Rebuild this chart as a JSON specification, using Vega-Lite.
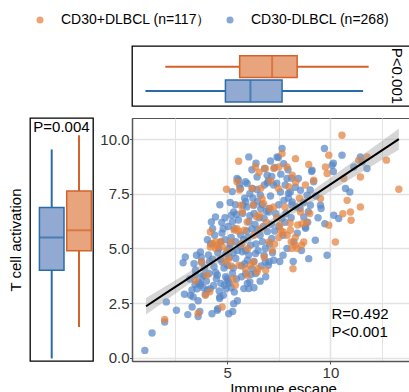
{
"$schema": "https://vega.github.io/schema/vega-lite/v6.json",
"autosize": {"type": "none"},
"padding": {"left": 30, "top": 46, "right": 379, "bottom": 346},
"background": "white",
"config": {"font": "Liberation Sans", "view": {"stroke": null}},
"columns": 2,
"spacing": {"row": 12, "column": 39},
"bounds": "flush",
"align": "each",
"resolve": {"scale": {"color": "independent", "fill": "independent", "stroke": "independent"}, "legend": {"color": "independent", "fill": "independent", "stroke": "independent"}},
"datasets": {
"boxT": [{"g":"CD30+","lo":2.01,"q1":5.61,"med":7.18,"q3":8.39,"hi":11.85},{"g":"CD30-","lo":1.05,"q1":4.92,"med":6.13,"q3":7.66,"hi":11.58}],
"boxL": [{"g":"CD30+","lo":1.4,"q1":4.89,"med":5.83,"q3":7.63,"hi":10.18},{"g":"CD30-","lo":-0.04,"q1":4.0,"med":5.5,"q3":6.87,"hi":9.53}],
"fit": [{"x":1.08,"fit":2.35,"lo":1.97,"hi":2.73},{"x":2,"fit":2.93,"lo":2.59,"hi":3.26},{"x":3,"fit":3.55,"lo":3.27,"hi":3.83},{"x":4,"fit":4.18,"lo":3.93,"hi":4.42},{"x":5,"fit":4.8,"lo":4.59,"hi":5.01},{"x":6,"fit":5.43,"lo":5.23,"hi":5.62},{"x":7,"fit":6.05,"lo":5.85,"hi":6.25},{"x":8,"fit":6.68,"lo":6.46,"hi":6.9},{"x":9,"fit":7.3,"lo":7.05,"hi":7.56},{"x":10,"fit":7.93,"lo":7.63,"hi":8.23},{"x":11,"fit":8.56,"lo":8.2,"hi":8.91},{"x":12,"fit":9.18,"lo":8.77,"hi":9.59},{"x":13.31,"fit":10.0,"lo":9.52,"hi":10.48}],
"pts": [
{"g":"CD30-","x":1.02,"y":0.33},{"g":"CD30-","x":1.37,"y":1.13},{"g":"CD30-","x":1.98,"y":1.63},{"g":"CD30-","x":2.06,"y":2.55},{"g":"CD30-","x":2.55,"y":2.17},{"g":"CD30-","x":2.87,"y":4.34},{"g":"CD30-","x":2.98,"y":4.61},{"g":"CD30-","x":2.94,"y":2.9},{"g":"CD30-","x":3.1,"y":1.97},{"g":"CD30-","x":3.31,"y":2.32},
{"g":"CD30-","x":3.23,"y":2.85},{"g":"CD30-","x":3.47,"y":4.0},{"g":"CD30-","x":3.52,"y":4.69},{"g":"CD30-","x":3.6,"y":1.88},{"g":"CD30-","x":3.71,"y":4.84},{"g":"CD30-","x":3.71,"y":3.31},{"g":"CD30-","x":3.76,"y":4.38},{"g":"CD30-","x":3.87,"y":3.77},{"g":"CD30-","x":3.68,"y":2.11},{"g":"CD30-","x":4.27,"y":2.01},
{"g":"CD30-","x":4.19,"y":3.16},{"g":"CD30-","x":4.24,"y":6.21},{"g":"CD30-","x":4.44,"y":6.44},{"g":"CD30-","x":4.48,"y":3.61},{"g":"CD30-","x":4.55,"y":2.24},{"g":"CD30-","x":4.65,"y":2.78},{"g":"CD30-","x":4.65,"y":7.0},{"g":"CD30-","x":4.76,"y":4.38},{"g":"CD30-","x":4.81,"y":5.9},{"g":"CD30-","x":4.87,"y":3.31},
{"g":"CD30-","x":5.0,"y":3.61},{"g":"CD30-","x":5.08,"y":2.01},{"g":"CD30-","x":5.27,"y":2.11},{"g":"CD30-","x":5.32,"y":2.47},{"g":"CD30-","x":5.21,"y":6.52},{"g":"CD30-","x":5.32,"y":6.67},{"g":"CD30-","x":5.48,"y":8.2},{"g":"CD30-","x":5.65,"y":7.74},{"g":"CD30-","x":5.77,"y":6.98},{"g":"CD30-","x":5.97,"y":7.97},
{"g":"CD30-","x":6.05,"y":9.19},{"g":"CD30-","x":5.89,"y":8.05},{"g":"CD30-","x":5.81,"y":3.16},{"g":"CD30-","x":6.05,"y":3.16},{"g":"CD30-","x":6.1,"y":3.46},{"g":"CD30-","x":6.21,"y":4.07},{"g":"CD30-","x":6.29,"y":6.98},{"g":"CD30-","x":6.45,"y":8.27},{"g":"CD30-","x":6.61,"y":7.43},{"g":"CD30-","x":6.81,"y":8.66},
{"g":"CD30-","x":6.94,"y":8.35},{"g":"CD30-","x":7.02,"y":6.67},{"g":"CD30-","x":6.85,"y":4.38},{"g":"CD30-","x":7.26,"y":4.46},{"g":"CD30-","x":7.42,"y":9.19},{"g":"CD30-","x":7.66,"y":9.57},{"g":"CD30-","x":7.58,"y":7.58},{"g":"CD30-","x":7.71,"y":4.69},{"g":"CD30-","x":7.74,"y":8.88},{"g":"CD30-","x":7.9,"y":8.2},
{"g":"CD30-","x":8.06,"y":7.58},{"g":"CD30-","x":8.15,"y":7.13},{"g":"CD30-","x":8.23,"y":5.29},{"g":"CD30-","x":8.55,"y":7.66},{"g":"CD30-","x":8.71,"y":6.44},{"g":"CD30-","x":8.79,"y":5.98},{"g":"CD30-","x":8.87,"y":7.43},{"g":"CD30-","x":8.95,"y":4.53},{"g":"CD30-","x":9.03,"y":6.98},{"g":"CD30-","x":9.11,"y":8.58},
{"g":"CD30-","x":9.19,"y":8.05},{"g":"CD30-","x":9.27,"y":5.37},{"g":"CD30-","x":9.52,"y":6.98},{"g":"CD30-","x":9.71,"y":9.57},{"g":"CD30-","x":9.73,"y":6.13},{"g":"CD30-","x":9.84,"y":4.69},{"g":"CD30-","x":10.08,"y":8.81},{"g":"CD30-","x":10.16,"y":6.52},{"g":"CD30-","x":10.4,"y":6.37},{"g":"CD30-","x":10.56,"y":9.27},
{"g":"CD30-","x":10.73,"y":7.74},{"g":"CD30-","x":10.94,"y":7.58},{"g":"CD30-","x":11.45,"y":9.19},{"g":"CD30-","x":11.77,"y":8.66},{"g":"CD30-","x":11.53,"y":8.96},{"g":"CD30-","x":11.13,"y":8.73},
{"g":"CD30-","x":3.36,"y":2.78},{"g":"CD30-","x":3.55,"y":3.15},{"g":"CD30-","x":3.7,"y":3.4},{"g":"CD30-","x":3.85,"y":3.2},{"g":"CD30-","x":4.0,"y":3.5},{"g":"CD30-","x":3.62,"y":3.45},{"g":"CD30-","x":4.05,"y":3.1},{"g":"CD30-","x":4.64,"y":2.71},{"g":"CD30-","x":4.53,"y":2.17},{"g":"CD30-","x":4.95,"y":3.15},
{"g":"CD30-","x":5.1,"y":3.4},{"g":"CD30-","x":5.2,"y":3.2},{"g":"CD30-","x":5.05,"y":3.5},{"g":"CD30-","x":5.98,"y":3.39},
{"g":"CD30-","x":4.74,"y":6.19},{"g":"CD30-","x":5.26,"y":6.22},{"g":"CD30-","x":5.66,"y":5.61},{"g":"CD30-","x":6.06,"y":6.22},{"g":"CD30-","x":6.31,"y":6.6},{"g":"CD30-","x":6.63,"y":6.83},{"g":"CD30-","x":6.79,"y":6.38},{"g":"CD30-","x":6.47,"y":5.84},{"g":"CD30-","x":6.95,"y":5.77},{"g":"CD30-","x":6.71,"y":5.31},
{"g":"CD30-","x":6.14,"y":5.15},{"g":"CD30-","x":5.74,"y":4.85},{"g":"CD30-","x":5.98,"y":4.46},{"g":"CD30-","x":6.38,"y":4.77},{"g":"CD30-","x":6.79,"y":4.69},{"g":"CD30-","x":7.03,"y":4.39},{"g":"CD30-","x":5.42,"y":4.54},{"g":"CD30-","x":5.02,"y":4.23},{"g":"CD30-","x":4.69,"y":4.5},{"g":"CD30-","x":4.37,"y":4.16},
{"g":"CD30-","x":4.13,"y":3.85},{"g":"CD30-","x":3.8,"y":3.7},{"g":"CD30-","x":3.48,"y":3.78},{"g":"CD30-","x":4.53,"y":3.78},{"g":"CD30-","x":4.93,"y":3.7},{"g":"CD30-","x":5.26,"y":3.85},{"g":"CD30-","x":5.9,"y":3.85},{"g":"CD30-","x":6.38,"y":3.85},{"g":"CD30-","x":6.87,"y":3.7},{"g":"CD30-","x":5.42,"y":5.31},
{"g":"CD30-","x":5.1,"y":5.0},{"g":"CD30-","x":5.9,"y":7.14},{"g":"CD30-","x":6.47,"y":7.14},{"g":"CD30-","x":7.03,"y":6.83},
{"g":"CD30-","x":7.48,"y":9.16},{"g":"CD30-","x":7.16,"y":8.29},{"g":"CD30-","x":7.4,"y":7.98},{"g":"CD30-","x":7.81,"y":7.9},{"g":"CD30-","x":8.13,"y":8.21},{"g":"CD30-","x":7.97,"y":7.52},{"g":"CD30-","x":9.09,"y":8.52},{"g":"CD30-","x":10.14,"y":8.9},{"g":"CD30-","x":10.14,"y":8.52},{"g":"CD30-","x":9.02,"y":7.67},
{"g":"CD30-","x":7.97,"y":7.3},{"g":"CD30-","x":9.55,"y":6.83},{"g":"CD30-","x":8.8,"y":5.92},{"g":"CD30-","x":8.93,"y":6.68},{"g":"CD30-","x":8.53,"y":6.83},{"g":"CD30-","x":8.13,"y":6.99},{"g":"CD30-","x":7.16,"y":5.46},{"g":"CD30-","x":7.0,"y":4.23},{"g":"CD30-","x":7.64,"y":6.38},{"g":"CD30-","x":7.5,"y":6.0},
{"g":"CD30-","x":7.8,"y":6.2},{"g":"CD30-","x":5.55,"y":8.13},{"g":"CD30-","x":6.22,"y":7.75},{"g":"CD30-","x":7.0,"y":8.1},{"g":"CD30-","x":6.1,"y":7.5},
{"g":"CD30-","x":3.2,"y":3.6},{"g":"CD30-","x":3.4,"y":4.3},{"g":"CD30-","x":3.9,"y":4.1},{"g":"CD30-","x":3.3,"y":3.1},{"g":"CD30-","x":3.6,"y":2.6},{"g":"CD30-","x":3.95,"y":2.9},{"g":"CD30-","x":3.75,"y":4.6},{"g":"CD30-","x":3.45,"y":3.35},{"g":"CD30-","x":4.1,"y":4.7},{"g":"CD30-","x":4.2,"y":5.2},
{"g":"CD30-","x":4.3,"y":4.5},{"g":"CD30-","x":4.45,"y":3.9},{"g":"CD30-","x":4.6,"y":5.0},{"g":"CD30-","x":4.7,"y":3.4},{"g":"CD30-","x":4.85,"y":4.1},{"g":"CD30-","x":4.4,"y":5.6},{"g":"CD30-","x":4.9,"y":5.4},{"g":"CD30-","x":4.55,"y":4.8},{"g":"CD30-","x":4.75,"y":5.7},{"g":"CD30-","x":4.35,"y":3.3},
{"g":"CD30-","x":4.15,"y":4.4},{"g":"CD30-","x":4.95,"y":4.75},{"g":"CD30-","x":4.62,"y":3.05},{"g":"CD30-","x":4.82,"y":2.85},{"g":"CD30-","x":4.9,"y":6.4},{"g":"CD30-","x":4.3,"y":5.9},{"g":"CD30-","x":4.05,"y":5.4},{"g":"CD30-","x":4.68,"y":5.3},
{"g":"CD30-","x":5.1,"y":4.6},{"g":"CD30-","x":5.2,"y":5.5},{"g":"CD30-","x":5.3,"y":4.1},{"g":"CD30-","x":5.35,"y":5.9},{"g":"CD30-","x":5.45,"y":3.6},{"g":"CD30-","x":5.5,"y":4.9},{"g":"CD30-","x":5.55,"y":6.3},{"g":"CD30-","x":5.65,"y":5.1},{"g":"CD30-","x":5.7,"y":4.2},{"g":"CD30-","x":5.75,"y":6.6},
{"g":"CD30-","x":5.8,"y":5.4},{"g":"CD30-","x":5.85,"y":7.3},{"g":"CD30-","x":5.9,"y":4.9},{"g":"CD30-","x":5.95,"y":5.8},{"g":"CD30-","x":5.15,"y":7.1},{"g":"CD30-","x":5.25,"y":7.6},{"g":"CD30-","x":5.4,"y":7.0},{"g":"CD30-","x":5.6,"y":7.9},{"g":"CD30-","x":5.05,"y":6.0},{"g":"CD30-","x":5.5,"y":2.6},
{"g":"CD30-","x":5.35,"y":3.0},{"g":"CD30-","x":5.7,"y":3.7},{"g":"CD30-","x":5.85,"y":4.3},{"g":"CD30-","x":5.95,"y":6.9},{"g":"CD30-","x":5.45,"y":6.55},{"g":"CD30-","x":5.15,"y":5.2},{"g":"CD30-","x":5.3,"y":4.8},
{"g":"CD30-","x":6.0,"y":5.5},{"g":"CD30-","x":6.05,"y":4.7},{"g":"CD30-","x":6.1,"y":6.5},{"g":"CD30-","x":6.15,"y":3.8},{"g":"CD30-","x":6.2,"y":5.9},{"g":"CD30-","x":6.25,"y":7.3},{"g":"CD30-","x":6.3,"y":4.4},{"g":"CD30-","x":6.35,"y":6.1},{"g":"CD30-","x":6.4,"y":5.2},{"g":"CD30-","x":6.45,"y":7.7},
{"g":"CD30-","x":6.5,"y":4.9},{"g":"CD30-","x":6.55,"y":6.4},{"g":"CD30-","x":6.6,"y":5.6},{"g":"CD30-","x":6.65,"y":4.2},{"g":"CD30-","x":6.7,"y":7.0},{"g":"CD30-","x":6.75,"y":6.0},{"g":"CD30-","x":6.8,"y":7.9},{"g":"CD30-","x":6.85,"y":5.0},{"g":"CD30-","x":6.9,"y":6.7},{"g":"CD30-","x":6.95,"y":8.0},
{"g":"CD30-","x":6.2,"y":8.6},{"g":"CD30-","x":6.4,"y":8.9},{"g":"CD30-","x":6.6,"y":3.5},{"g":"CD30-","x":6.3,"y":3.2},
{"g":"CD30-","x":7.05,"y":5.2},{"g":"CD30-","x":7.1,"y":7.4},{"g":"CD30-","x":7.15,"y":6.1},{"g":"CD30-","x":7.2,"y":4.8},{"g":"CD30-","x":7.25,"y":7.9},{"g":"CD30-","x":7.3,"y":5.8},{"g":"CD30-","x":7.35,"y":6.6},{"g":"CD30-","x":7.5,"y":7.0},{"g":"CD30-","x":7.55,"y":4.4},{"g":"CD30-","x":7.6,"y":8.4},
{"g":"CD30-","x":7.7,"y":5.6},{"g":"CD30-","x":7.75,"y":7.2},{"g":"CD30-","x":7.85,"y":6.6},{"g":"CD30-","x":7.9,"y":5.0},{"g":"CD30-","x":7.95,"y":8.6},{"g":"CD30-","x":7.3,"y":8.7},{"g":"CD30-","x":7.1,"y":9.0},
{"g":"CD30-","x":8.1,"y":6.4},{"g":"CD30-","x":8.3,"y":7.8},{"g":"CD30-","x":8.4,"y":5.7},{"g":"CD30-","x":8.45,"y":8.2},{"g":"CD30-","x":8.6,"y":4.9},{"g":"CD30-","x":8.7,"y":7.1},{"g":"CD30-","x":8.9,"y":6.2},{"g":"CD30-","x":9.3,"y":7.4},{"g":"CD30-","x":9.4,"y":6.4},{"g":"CD30-","x":8.2,"y":4.4},
{"g":"CD30-","x":8.35,"y":6.9},
{"g":"CD30+","x":1.98,"y":1.75},{"g":"CD30+","x":3.47,"y":3.53},{"g":"CD30+","x":3.6,"y":2.03},{"g":"CD30+","x":3.76,"y":4.38},{"g":"CD30+","x":3.95,"y":2.85},{"g":"CD30+","x":4.03,"y":3.77},{"g":"CD30+","x":4.19,"y":5.75},{"g":"CD30+","x":4.19,"y":5.06},{"g":"CD30+","x":4.44,"y":5.29},{"g":"CD30+","x":4.52,"y":5.14},
{"g":"CD30+","x":4.71,"y":5.32},{"g":"CD30+","x":4.76,"y":2.32},{"g":"CD30+","x":4.97,"y":7.71},{"g":"CD30+","x":5.08,"y":4.53},{"g":"CD30+","x":5.19,"y":5.29},{"g":"CD30+","x":5.29,"y":3.61},{"g":"CD30+","x":5.4,"y":3.31},{"g":"CD30+","x":5.48,"y":5.9},{"g":"CD30+","x":5.48,"y":8.05},{"g":"CD30+","x":5.56,"y":8.99},
{"g":"CD30+","x":5.65,"y":6.98},{"g":"CD30+","x":5.73,"y":6.67},{"g":"CD30+","x":5.84,"y":5.83},{"g":"CD30+","x":5.97,"y":6.21},{"g":"CD30+","x":5.89,"y":4.07},{"g":"CD30+","x":5.97,"y":3.77},{"g":"CD30+","x":6.21,"y":7.74},{"g":"CD30+","x":6.29,"y":4.38},{"g":"CD30+","x":6.37,"y":8.73},{"g":"CD30+","x":6.45,"y":3.92},
{"g":"CD30+","x":6.58,"y":6.52},{"g":"CD30+","x":6.69,"y":7.28},{"g":"CD30+","x":6.77,"y":7.05},{"g":"CD30+","x":6.85,"y":8.66},{"g":"CD30+","x":7.02,"y":5.29},{"g":"CD30+","x":7.18,"y":4.91},{"g":"CD30+","x":7.26,"y":6.9},{"g":"CD30+","x":7.26,"y":8.66},{"g":"CD30+","x":7.5,"y":8.73},{"g":"CD30+","x":7.55,"y":6.06},
{"g":"CD30+","x":7.66,"y":9.34},{"g":"CD30+","x":7.71,"y":5.75},{"g":"CD30+","x":7.9,"y":8.73},{"g":"CD30+","x":7.98,"y":7.82},{"g":"CD30+","x":8.06,"y":5.83},{"g":"CD30+","x":8.15,"y":8.35},{"g":"CD30+","x":8.19,"y":4.07},{"g":"CD30+","x":8.31,"y":9.11},{"g":"CD30+","x":8.39,"y":4.99},{"g":"CD30+","x":8.55,"y":6.67},
{"g":"CD30+","x":8.63,"y":6.13},{"g":"CD30+","x":8.71,"y":5.29},{"g":"CD30+","x":8.79,"y":7.9},{"g":"CD30+","x":8.95,"y":8.84},{"g":"CD30+","x":9.19,"y":8.12},{"g":"CD30+","x":9.52,"y":7.28},{"g":"CD30+","x":9.76,"y":8.73},{"g":"CD30+","x":9.84,"y":8.43},{"g":"CD30+","x":9.92,"y":6.06},{"g":"CD30+","x":9.92,"y":9.27},
{"g":"CD30+","x":10.24,"y":5.29},{"g":"CD30+","x":10.56,"y":10.18},{"g":"CD30+","x":10.65,"y":8.2},{"g":"CD30+","x":10.6,"y":6.59},{"g":"CD30+","x":10.81,"y":7.2},{"g":"CD30+","x":10.97,"y":6.67},{"g":"CD30+","x":11.0,"y":6.29},{"g":"CD30+","x":11.45,"y":6.9},{"g":"CD30+","x":11.45,"y":8.27},{"g":"CD30+","x":11.37,"y":9.04},
{"g":"CD30+","x":11.77,"y":9.19},{"g":"CD30+","x":12.71,"y":9.04},{"g":"CD30+","x":13.31,"y":7.71},
{"g":"CD30+","x":4.29,"y":5.23},{"g":"CD30+","x":4.77,"y":5.08},{"g":"CD30+","x":4.45,"y":5.0},{"g":"CD30+","x":5.34,"y":5.84},{"g":"CD30+","x":5.55,"y":5.79},{"g":"CD30+","x":6.26,"y":6.99},{"g":"CD30+","x":6.42,"y":6.45},{"g":"CD30+","x":6.51,"y":4.08},{"g":"CD30+","x":6.87,"y":4.0},{"g":"CD30+","x":5.58,"y":4.23},
{"g":"CD30+","x":6.14,"y":4.23},{"g":"CD30+","x":4.16,"y":3.01},{"g":"CD30+","x":8.32,"y":8.03},{"g":"CD30+","x":7.48,"y":7.75},{"g":"CD30+","x":7.1,"y":8.1},{"g":"CD30+","x":8.05,"y":6.15},{"g":"CD30+","x":8.42,"y":6.07},{"g":"CD30+","x":8.85,"y":6.19},{"g":"CD30+","x":7.5,"y":5.5},{"g":"CD30+","x":7.9,"y":5.6},
{"g":"CD30+","x":8.1,"y":5.3},{"g":"CD30+","x":7.6,"y":5.8},{"g":"CD30+","x":8.3,"y":5.5},{"g":"CD30+","x":8.13,"y":5.0},{"g":"CD30+","x":8.29,"y":5.15},{"g":"CD30+","x":8.61,"y":5.15},{"g":"CD30+","x":7.08,"y":6.83},{"g":"CD30+","x":6.55,"y":8.49},{"g":"CD30+","x":5.6,"y":7.67},{"g":"CD30+","x":6.63,"y":7.75},
{"g":"CD30+","x":5.0,"y":4.9},{"g":"CD30+","x":5.7,"y":5.2},{"g":"CD30+","x":6.0,"y":5.0},{"g":"CD30+","x":6.3,"y":5.6},{"g":"CD30+","x":6.6,"y":5.9},{"g":"CD30+","x":6.9,"y":6.2},{"g":"CD30+","x":7.3,"y":5.2},{"g":"CD30+","x":7.4,"y":6.4},{"g":"CD30+","x":5.2,"y":4.2},{"g":"CD30+","x":4.9,"y":4.4},
{"g":"CD30+","x":6.8,"y":4.6},{"g":"CD30+","x":7.8,"y":6.9},{"g":"CD30+","x":8.5,"y":7.3},{"g":"CD30+","x":9.0,"y":6.6}
]
},
"concat": [
{
"width": 63, "height": 60,
"data": {"values": []},
"mark": "point"
},
{
"width": 278, "height": 60,
"view": {"stroke": "#000", "strokeWidth": 1.3},
"title": {"text": "P<0.001", "orient": "right", "offset": -21, "frame": "group", "anchor": "middle", "fontSize": 15, "fontWeight": "normal", "color": "#000"},
"data": {"name": "boxT"},
"encoding": {"y": {"field": "g", "type": "nominal", "scale": {"domain": ["CD30+", "CD30-"], "paddingInner": 0.1, "paddingOuter": 0.2845, "align": 0.705}, "axis": null}},
"layer": [
{"mark": {"type": "rule", "strokeWidth": 2},
 "encoding": {"x": {"field": "lo", "type": "quantitative", "scale": {"domain": [0.4, 13.85], "nice": false, "zero": false}, "axis": null},
  "x2": {"field": "hi"},
  "color": {"field": "g", "type": "nominal", "scale": {"domain": ["CD30+", "CD30-"], "range": ["#D4622B", "#2B6CA8"]}, "legend": null}}},
{"mark": {"type": "bar", "strokeWidth": 1.5},
 "encoding": {"x": {"field": "q1", "type": "quantitative", "axis": null},
  "x2": {"field": "q3"},
  "fill": {"field": "g", "type": "nominal", "scale": {"domain": ["CD30+", "CD30-"], "range": ["#E8A57D", "#92A9D1"]}, "legend": null},
  "stroke": {"field": "g", "type": "nominal", "scale": {"domain": ["CD30+", "CD30-"], "range": ["#D4622B", "#2B6CA8"]}, "legend": null}}},
{"mark": {"type": "tick", "size": 22, "thickness": 2},
 "encoding": {"x": {"field": "med", "type": "quantitative", "axis": null},
  "color": {"field": "g", "type": "nominal", "legend": null}}}
]
},
{
"width": 63, "height": 243,
"view": {"stroke": "#000", "strokeWidth": 1.3},
"title": {"text": "P=0.004", "orient": "top", "offset": -17, "frame": "group", "anchor": "middle", "fontSize": 15, "fontWeight": "normal", "color": "#000"},
"data": {"name": "boxL"},
"encoding": {"x": {"field": "g", "type": "nominal", "scale": {"domain": ["CD30-", "CD30+"], "paddingInner": 0.1, "paddingOuter": 0.204, "align": 0.846}, "axis": null}},
"layer": [
{"mark": {"type": "rule", "strokeWidth": 2},
 "encoding": {"y": {"field": "lo", "type": "quantitative", "title": "T cell activation", "scale": {"domain": [-0.155, 10.97], "nice": false, "zero": false},
   "axis": {"title": "T cell activation", "labels": false, "ticks": false, "domain": false, "grid": false, "minExtent": 0, "titleFontSize": 15, "titleFontWeight": "normal", "titleColor": "#000", "titlePadding": 7}},
  "y2": {"field": "hi"},
  "color": {"field": "g", "type": "nominal", "scale": {"domain": ["CD30+", "CD30-"], "range": ["#D4622B", "#2B6CA8"]}, "legend": null}}},
{"mark": {"type": "bar", "strokeWidth": 1.5},
 "encoding": {"y": {"field": "q1", "type": "quantitative", "title": "T cell activation"},
  "y2": {"field": "q3"},
  "fill": {"field": "g", "type": "nominal", "scale": {"domain": ["CD30+", "CD30-"], "range": ["#E8A57D", "#92A9D1"]}, "legend": null},
  "stroke": {"field": "g", "type": "nominal", "scale": {"domain": ["CD30+", "CD30-"], "range": ["#D4622B", "#2B6CA8"]}, "legend": null}}},
{"mark": {"type": "tick", "size": 25, "thickness": 2},
 "encoding": {"y": {"field": "med", "type": "quantitative", "title": "T cell activation"},
  "color": {"field": "g", "type": "nominal", "legend": null}}}
]
},
{
"width": 278, "height": 243,
"view": {"stroke": "#555", "strokeWidth": 1},
"layer": [
{"data": {"name": "pts"},
 "mark": {"type": "circle", "size": 55, "opacity": 0.72},
 "encoding": {
  "x": {"field": "x", "type": "quantitative", "title": "Immune escape", "scale": {"domain": [0.4, 13.85], "nice": false, "zero": false},
   "axis": {"values": [2.5, 5, 7.5, 10, 12.5], "labelExpr": "datum.value % 5 === 0 ? datum.label : ''",
    "tickColor": {"condition": {"test": "datum.value % 5 !== 0", "value": "transparent"}, "value": "#555"},
    "gridWidth": {"condition": {"test": "datum.value % 5 === 0", "value": 1.6}, "value": 1},
    "gridColor": "#E3E3E3", "tickSize": 3, "labelPadding": 1, "labelFlush": false,
    "domainColor": "#555", "domainWidth": 1.5, "labelFontSize": 15, "labelColor": "#333",
    "title": "Immune escape", "titleX": 151, "titlePadding": 1, "titleFontSize": 15, "titleFontWeight": "normal", "titleColor": "#000"}},
  "y": {"field": "y", "type": "quantitative", "title": null, "scale": {"domain": [-0.155, 10.97], "nice": false, "zero": false},
   "axis": {"values": [0, 1.25, 2.5, 3.75, 5, 6.25, 7.5, 8.75, 10], "format": ".1f", "labelExpr": "datum.value % 2.5 === 0 ? datum.label : ''",
    "tickColor": {"condition": {"test": "datum.value % 2.5 !== 0", "value": "transparent"}, "value": "#555"},
    "gridWidth": {"condition": {"test": "datum.value % 2.5 === 0", "value": 1.6}, "value": 1},
    "gridColor": "#E3E3E3", "tickSize": 2.5, "labelPadding": 0.5, "labelFlush": false,
    "domainColor": "#555", "domainWidth": 1.5, "labelFontSize": 15, "labelColor": "#333", "title": null}},
  "color": {"field": "g", "type": "nominal", "scale": {"domain": ["CD30+", "CD30-"], "range": ["#E3823F", "#5787C6"]},
   "legend": {"orient": "none", "legendX": -99, "legendY": -105, "direction": "horizontal", "title": null, "symbolType": "circle", "symbolSize": 50, "labelFontSize": 14, "labelColor": "#000", "labelOffset": 14, "columnPadding": 12, "padding": 0,
    "labelExpr": "datum.label === 'CD30+' ? 'CD30+DLBCL (n=117）' : 'CD30-DLBCL (n=268)'"}}}},
{"data": {"name": "fit"},
 "mark": {"type": "area", "color": "#999999", "opacity": 0.4},
 "encoding": {"x": {"field": "x", "type": "quantitative", "title": "Immune escape"}, "y": {"field": "lo", "type": "quantitative", "title": null}, "y2": {"field": "hi"}}},
{"data": {"name": "fit"},
 "mark": {"type": "line", "color": "#000", "strokeWidth": 2},
 "encoding": {"x": {"field": "x", "type": "quantitative", "title": "Immune escape"}, "y": {"field": "fit", "type": "quantitative", "title": null}}},
{"data": {"values": [{}]},
 "mark": {"type": "text", "align": "left", "baseline": "top", "fontSize": 15, "lineHeight": 17.5, "color": "#000"},
 "encoding": {"x": {"datum": 10.05}, "y": {"datum": 2.3}, "text": {"value": ["R=0.492", "P<0.001"]}}}
]
}
]
}
